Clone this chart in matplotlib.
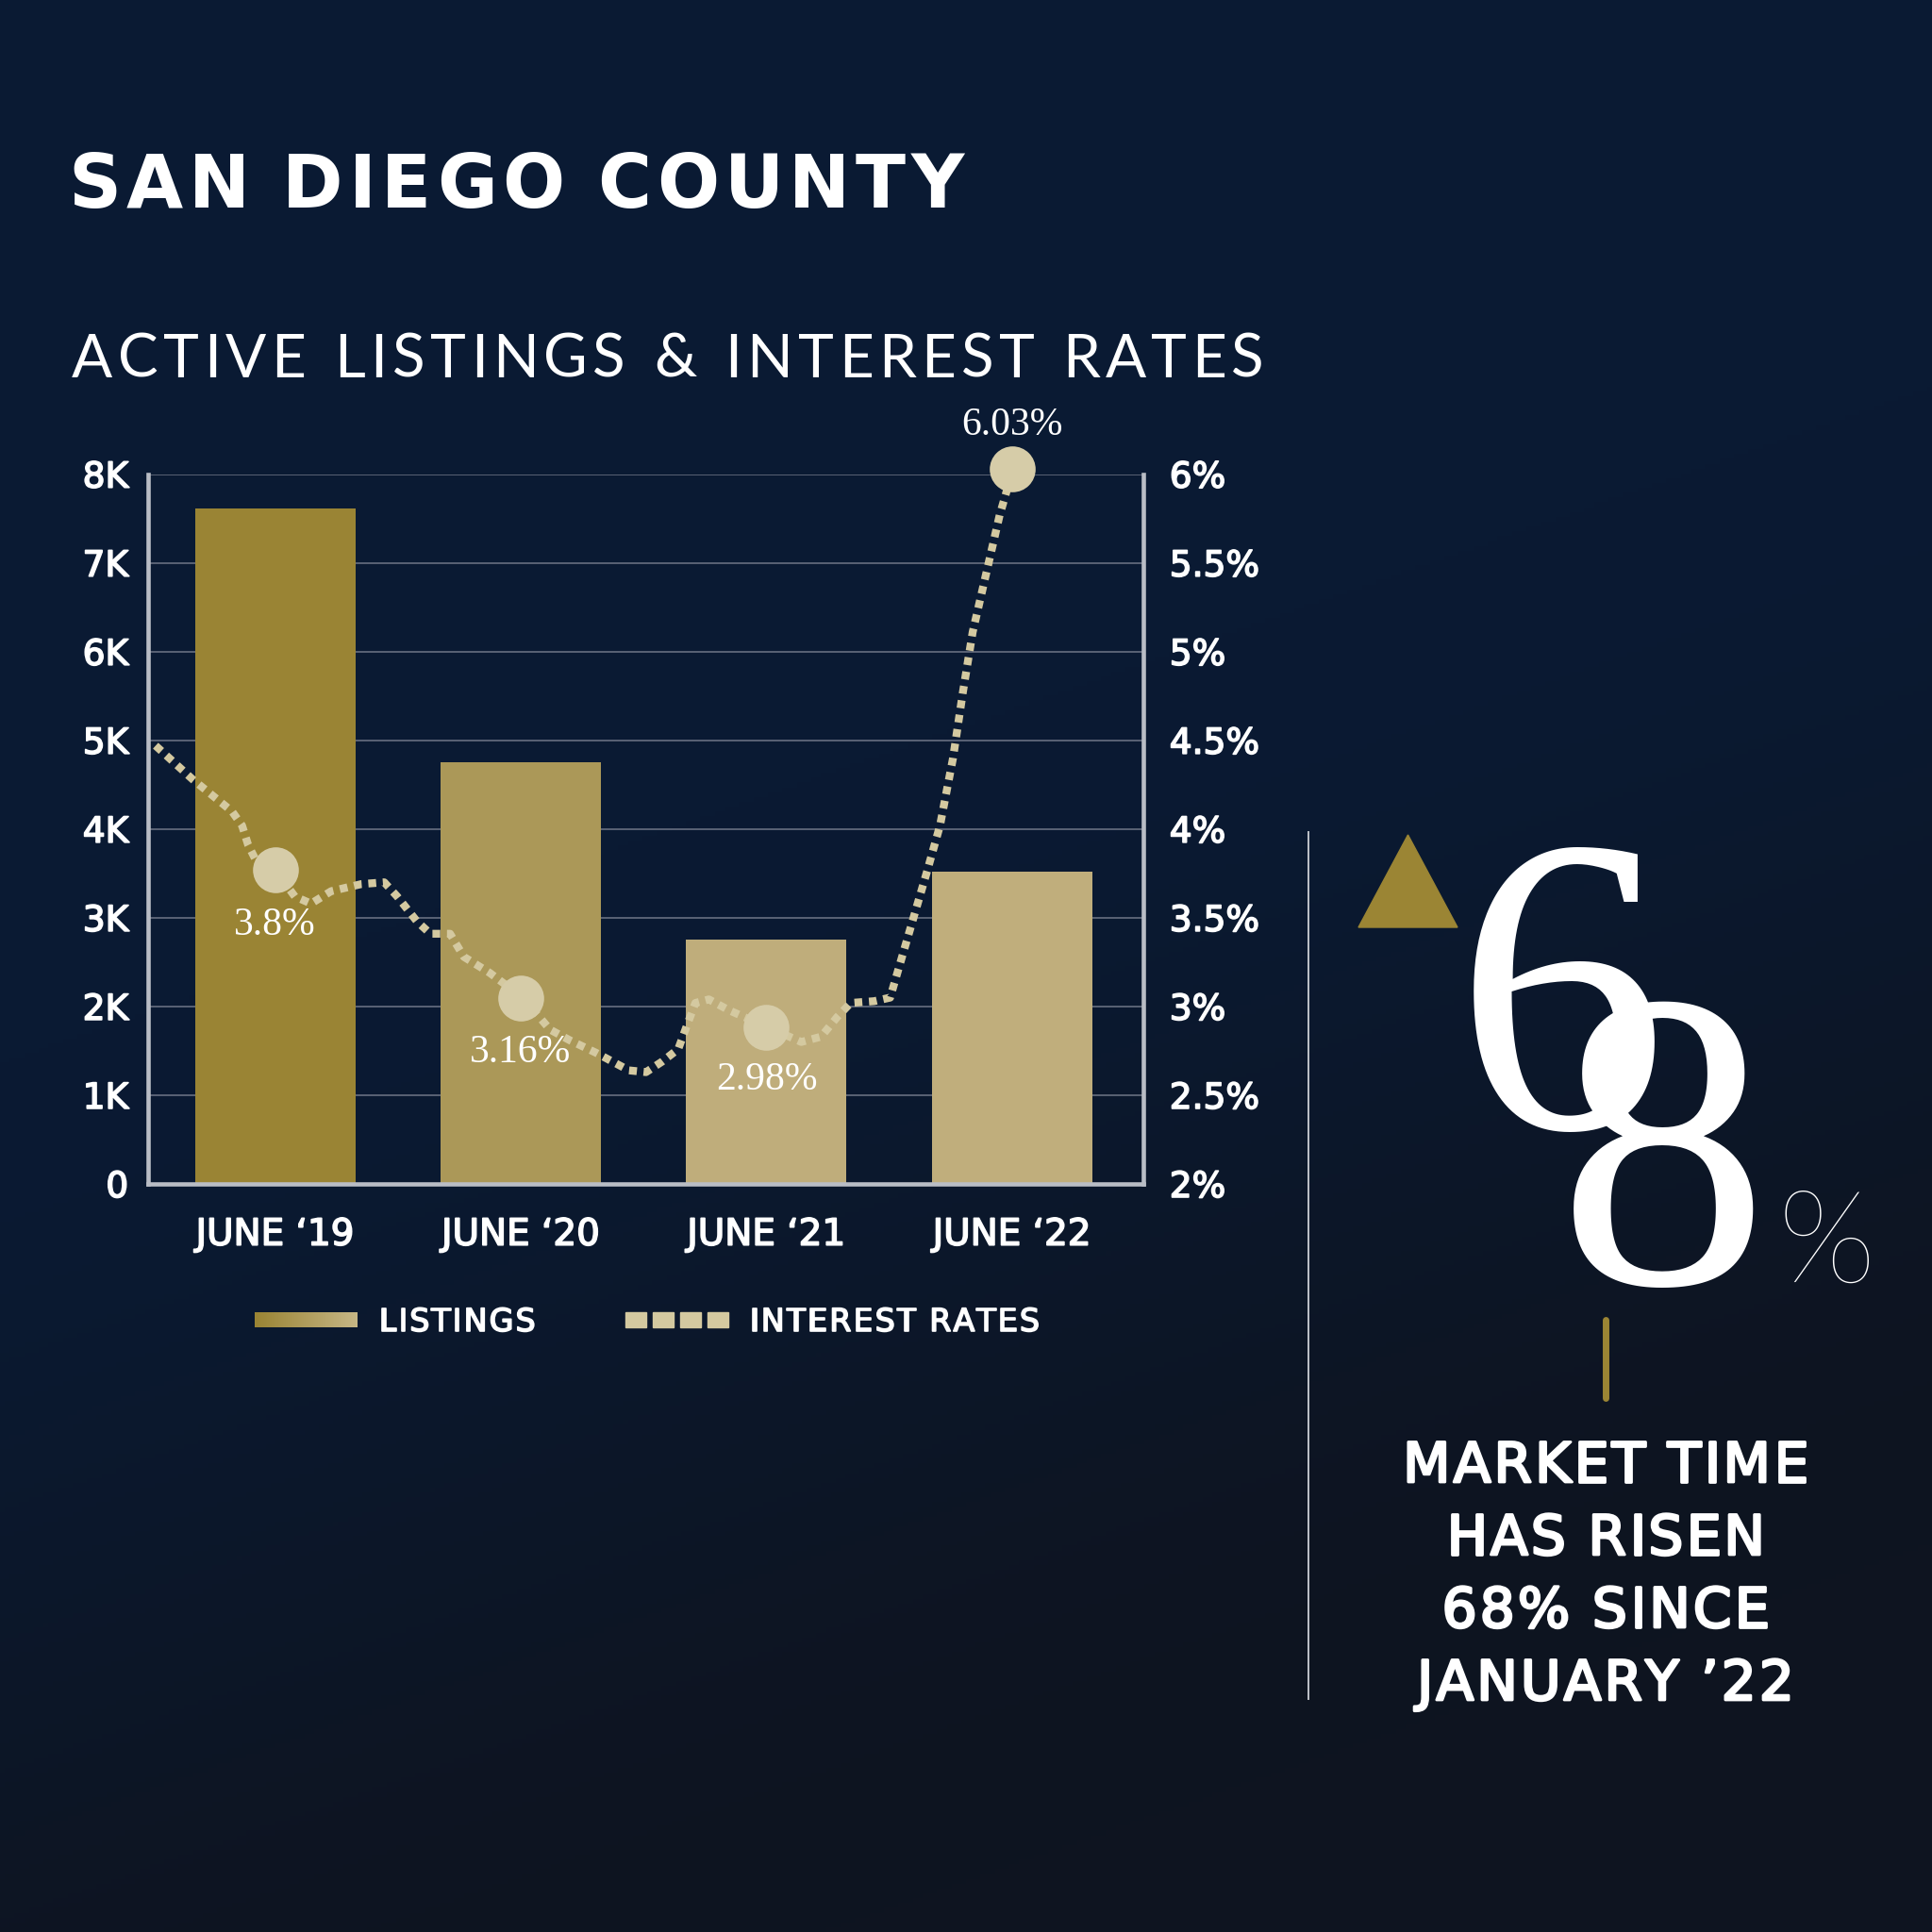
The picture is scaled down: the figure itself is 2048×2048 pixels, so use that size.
import numpy as np
import matplotlib.pyplot as plt
import matplotlib.patheffects as pe
from matplotlib.patches import Polygon, Rectangle
from matplotlib.lines import Line2D
from matplotlib.colors import LinearSegmentedColormap

# data
periods = ["JUNE \u201819", "JUNE \u201820", "JUNE \u201821", "JUNE \u201822"]
listings = [7610, 4750, 2750, 3515]
bar_colors = ["#9A8434", "#AB9858", "#BFAD7B", "#C0AE7C"]

listing_ticks = [0, 1000, 2000, 3000, 4000, 5000, 6000, 7000, 8000]
listing_tick_labels = ["0", "1K", "2K", "3K", "4K", "5K", "6K", "7K", "8K"]
rate_ticks = [2, 2.5, 3, 3.5, 4, 4.5, 5, 5.5, 6]
rate_tick_labels = ["2%", "2.5%", "3%", "3.5%", "4%", "4.5%", "5%", "5.5%", "6%"]

# interest rate curve, x in years since June '19
rate_x = [-0.487, -0.336, -0.176, -0.135, -0.110, -0.070, 0.0, 0.080, 0.146, 0.228,
          0.351, 0.444, 0.497, 0.577, 0.632, 0.712, 0.768, 0.873, 1.008, 1.119,
          1.199, 1.305, 1.440, 1.510, 1.576, 1.641, 1.681, 1.711, 1.766, 1.846,
          1.927, 2.012, 2.142, 2.223, 2.288, 2.343, 2.439, 2.504, 2.544, 2.599,
          2.654, 2.707, 2.760, 2.800, 2.840, 2.895, 2.950, 2.990, 2.997]
rate_y = [4.47, 4.28, 4.10, 4.02, 3.91, 3.80, 3.77, 3.62, 3.58, 3.65,
          3.69, 3.70, 3.62, 3.48, 3.41, 3.41, 3.28, 3.19, 3.05, 2.87,
          2.81, 2.74, 2.64, 2.63, 2.69, 2.76, 2.91, 3.02, 3.04, 2.98,
          2.93, 2.88, 2.80, 2.83, 2.94, 3.02, 3.03, 3.05, 3.24, 3.50,
          3.76, 4.02, 4.40, 4.77, 5.11, 5.44, 5.77, 5.96, 6.03]
marker_x = [0, 1, 2, 3]
marker_y = [3.77, 3.05, 2.88, 6.03]
marker_labels = ["3.8%", "3.16%", "2.98%", "6.03%"]
marker_offsets = [-42, -42, -40, 33]

W = H = 2048
DPI = 100
GOLD = "#9B8534"
CREAM = "#D4C9A0"
semi = [pe.withStroke(linewidth=1.2, foreground="white")]

fig = plt.figure(figsize=(W / DPI, H / DPI), dpi=DPI)


def fx(x):
    return x / W


def fy(y):
    return 1 - y / H


# background gradient
bg = fig.add_axes([0, 0, 1, 1], zorder=-10)
yy, xx = np.mgrid[0:1:400j, 0:1:400j]
d = yy + 0.35 * xx
t = np.clip((d - 0.55) / 0.6, 0, 1)
t = t * t * (3 - 2 * t)
c0 = np.array([10, 26, 51]) / 255
c1 = np.array([14, 20, 32]) / 255
img = c0[None, None, :] * (1 - t[..., None]) + c1[None, None, :] * t[..., None]
bg.imshow(img, extent=[0, 1, 0, 1], aspect="auto", origin="upper")
bg.axis("off")

renderer = fig.canvas.get_renderer()


def tracked(x, y, s, size, track=0.0, ha="left", fit=None, **kw):
    # letter-spaced text; x, y in pixels, y is the baseline
    arts, widths = [], []
    for ch in s:
        if ch == " ":
            arts.append(None)
            widths.append(size * 0.30 * DPI / 72)
            continue
        tx = fig.text(0, 0, ch, fontsize=size, va="baseline", ha="left", **kw)
        arts.append(tx)
        widths.append(tx.get_window_extent(renderer).width)
    if fit is not None:
        track = (fit - sum(widths)) / (len(s) - 1)
    total = sum(widths) + track * (len(s) - 1)
    x0 = x - total / 2 if ha == "center" else x
    for a, w in zip(arts, widths):
        if a is not None:
            a.set_position((fx(x0), fy(y)))
        x0 += w + track


# titles
tracked(72, 220, "SAN DIEGO COUNTY", 56, fit=1022 - 72, color="white",
        fontweight="bold", family="DejaVu Sans")
tracked(76, 400, "ACTIVE LISTINGS & INTEREST RATES", 46, fit=1340 - 76,
        color="white", fontweight="normal", family="Lato")

# main chart
ax = fig.add_axes([fx(157), fy(1255), fx(1212 - 157), (1255 - 502.7) / H])
ax.patch.set_alpha(0)
x = np.arange(len(periods))
ax.bar(x, listings, width=0.653, color=bar_colors, zorder=2)
ax.set_xlim(-0.5175, 3.535)
ax.set_ylim(0, 8000)
ax.set_yticks(listing_ticks)
ax.set_yticklabels(listing_tick_labels)
ax.set_xticks(x)
ax.set_xticklabels(periods)
ax.yaxis.grid(True, color="#6F7687", lw=1.1)
ax.set_axisbelow(True)
ax.spines["top"].set_visible(False)
for s in ["left", "bottom", "right"]:
    ax.spines[s].set_color("#B9BDC5")
    ax.spines[s].set_linewidth(3.3)
ax.tick_params(axis="y", length=0, labelsize=27, labelcolor="white", pad=15)
ax.tick_params(axis="x", length=0, labelsize=28, labelcolor="white", pad=25)

ax2 = ax.twinx()
ax2.set_ylim(2, 6)
ax2.set_yticks(rate_ticks)
ax2.set_yticklabels(rate_tick_labels)
for s in ax2.spines.values():
    s.set_visible(False)
ax2.tick_params(axis="y", length=0, labelsize=27, labelcolor="white", pad=20)
for lab in ax.get_xticklabels() + ax.get_yticklabels() + ax2.get_yticklabels():
    lab.set_path_effects(semi)

ax2.plot(rate_x, rate_y, color=CREAM, lw=6, linestyle=(0, (1, 0.85)),
         dash_capstyle="butt", clip_on=False, zorder=3)
ax2.plot(marker_x, marker_y, "o", ms=35, color="#D6CCA8", mec="none",
         clip_on=False, zorder=4)
for mx, my, lab, off in zip(marker_x, marker_y, marker_labels, marker_offsets):
    ax2.annotate(lab, (mx, my), xytext=(0, off), textcoords="offset points",
                 ha="center", va="center", fontsize=30, color="white",
                 family="Liberation Serif", annotation_clip=False, zorder=5)

# legend
lg = fig.add_axes([fx(270), fy(1407), fx(379 - 270), 16 / H])
lg.imshow(np.linspace(0, 1, 100)[None, :], aspect="auto",
          cmap=LinearSegmentedColormap.from_list("g", ["#9A8434", "#C6B685"]))
lg.axis("off")
tracked(402, 1411, "LISTINGS", 24, track=2.0, color="white",
        family="DejaVu Sans", path_effects=semi)
for sx in [663, 692, 721, 750]:
    fig.patches.append(Rectangle((fx(sx), fy(1407)), 21.5 / W, 16 / H,
                                 transform=fig.transFigure, color=CREAM))
tracked(795, 1411, "INTEREST RATES", 24, track=2.0, color="white",
        family="DejaVu Sans", path_effects=semi)

# right panel
fig.lines.append(Line2D([fx(1387), fx(1387)], [fy(882), fy(1801)],
                        transform=fig.transFigure, color="#BFC3CA", lw=1.4))
fig.patches.append(Polygon([(fx(1440), fy(983)), (fx(1545), fy(983)),
                            (fx(1492.5), fy(885))], closed=True,
                           transform=fig.transFigure, color=GOLD))
fig.text(fx(1655), fy(1196), "6", fontsize=323, family="Liberation Serif",
         ha="center", va="baseline", color="white")
fig.text(fx(1763), fy(1361), "8", fontsize=323, family="Liberation Serif",
         ha="center", va="baseline", color="white")
fig.text(fx(1885), fy(1359), "%", fontsize=98, family="Lato", fontweight="light",
         ha="left", va="baseline", color="white")
fig.lines.append(Line2D([fx(1702), fx(1702)], [fy(1399), fy(1482)],
                        transform=fig.transFigure, color=GOLD, lw=5,
                        solid_capstyle="round"))

summary_lines = ["MARKET TIME", "HAS RISEN", "68% SINCE", "JANUARY \u201922"]
summary_baselines = [1571, 1648, 1725, 1802]
bold_ish = [pe.withStroke(linewidth=2.0, foreground="white")]
for line, base in zip(summary_lines, summary_baselines):
    tracked(1702, base, line, 42, track=3, ha="center", color="white",
            family="DejaVu Sans", path_effects=bold_ish)

fig.savefig("out.png", dpi=DPI)
